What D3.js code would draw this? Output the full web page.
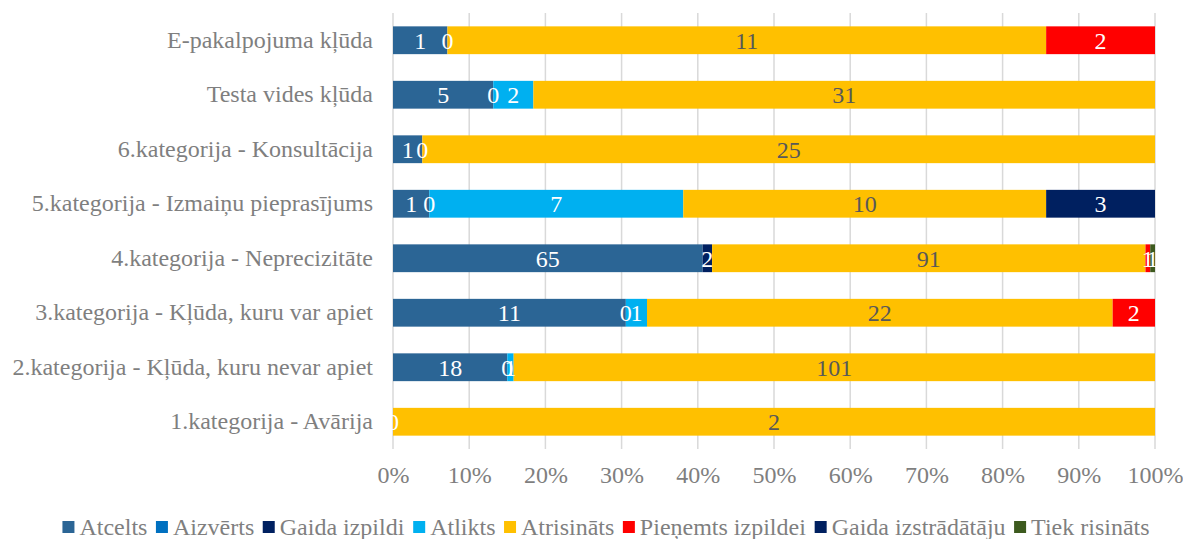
<!DOCTYPE html>
<html lang="lv">
<head>
    <meta charset="UTF-8">
    <title>Pieteikumi pa kategorijām</title>
    <script src="https://d3js.org/d3.v7.min.js"></script>
    <style>
        body { margin: 0; background: #fff; }
        text { font-family: "Liberation Serif", "Times New Roman", serif; }
    </style>
</head>
<body>
    <div id="chart"></div>
    <script>
        // kategorijas no augšas uz leju
        var categories = [
            "E-pakalpojuma kļūda",
            "Testa vides kļūda",
            "6.kategorija - Konsultācija",
            "5.kategorija - Izmaiņu pieprasījums",
            "4.kategorija - Neprecizitāte",
            "3.kategorija - Kļūda, kuru var apiet",
            "2.kategorija - Kļūda, kuru nevar apiet",
            "1.kategorija - Avārija"
        ];

        var seriesNames = ["Atcelts", "Aizvērts", "Gaida izpildi", "Atlikts", "Atrisināts",
                           "Pieņemts izpildei", "Gaida izstrādātāju", "Tiek risināts"];
        var seriesColors = ["#2b6595", "#0070c0", "#002060", "#00b0f0", "#ffc000",
                            "#ff0000", "#002060", "#3d5a1e"];

        var atcelts           = [1, 5, 1, 1, 65, 11, 18, null];
        var aizverts          = [0, 0, 0, 0, null, 0, 0, 0];
        var gaidaIzpildi      = [null, null, null, null, 2, null, null, null];
        var atlikts           = [null, 2, null, 7, null, 1, 1, null];
        var atrisinats        = [11, 31, 25, 10, 91, 22, 101, 2];
        var pienemts          = [2, null, null, null, 1, 2, null, null];
        var gaidaIzstradataju = [null, null, null, 3, null, null, null, null];
        var tiekRisinats      = [null, null, null, null, 1, null, null, null];

        var tickLabels = ["0%", "10%", "20%", "30%", "40%", "50%", "60%", "70%", "80%", "90%", "100%"];

        var seriesValues = [atcelts, aizverts, gaidaIzpildi, atlikts, atrisinats,
                            pienemts, gaidaIzstradataju, tiekRisinats];

        var width = 1183, height = 539;
        var plotLeft = 393, plotRight = 1155, plotTop = 13, plotBottom = 449;
        var textGray = "#7f7f7f";
        var fontSize = 24;

        // rindas tabula stack funkcijai
        var rows = categories.map(function (c, i) {
            var r = { category: c };
            seriesNames.forEach(function (s, j) { r[s] = seriesValues[j][i] || 0; });
            return r;
        });

        var stack = d3.stack().keys(seriesNames).offset(d3.stackOffsetExpand);
        var stacked = stack(rows);

        var xScale = d3.scaleLinear().domain([0, 1]).range([plotLeft, plotRight]);
        var yScale = d3.scaleBand().domain(categories).range([plotTop, plotBottom])
            .paddingInner(0.49).paddingOuter(0.245);
        var colorScale = d3.scaleOrdinal().domain(seriesNames).range(seriesColors);

        var svg = d3.select("#chart").append("svg")
            .attr("width", width)
            .attr("height", height);

        // režģa līnijas
        svg.append("g")
            .selectAll("line")
            .data(tickLabels)
            .enter()
            .append("line")
            .attr("x1", function (d, i) { return xScale(i / 10); })
            .attr("x2", function (d, i) { return xScale(i / 10); })
            .attr("y1", plotTop)
            .attr("y2", plotBottom)
            .attr("stroke", "#d9d9d9")
            .attr("stroke-width", 1.5);

        // stabiņi
        var layers = svg.append("g")
            .selectAll("g")
            .data(stacked)
            .enter()
            .append("g")
            .attr("fill", function (d) { return colorScale(d.key); });

        layers.selectAll("rect")
            .data(function (d) { return d; })
            .enter()
            .append("rect")
            .attr("x", function (d) { return xScale(d[0]); })
            .attr("y", function (d) { return yScale(d.data.category); })
            .attr("width", function (d) { return xScale(d[1]) - xScale(d[0]); })
            .attr("height", yScale.bandwidth());

        // datu etiķetes
        var labelG = svg.append("g").attr("font-size", fontSize).attr("text-anchor", "middle");
        stacked.forEach(function (layer, j) {
            layer.forEach(function (d, i) {
                var v = seriesValues[j][i];
                if (v === null) return;
                labelG.append("text")
                    .attr("x", (xScale(d[0]) + xScale(d[1])) / 2)
                    .attr("y", yScale(d.data.category) + yScale.bandwidth() / 2)
                    .attr("dy", "0.35em")
                    .attr("fill", layer.key === "Atrisināts" ? "#595959" : "#ffffff")
                    .text(v);
            });
        });

        // kategoriju nosaukumi
        var yAxis = d3.axisLeft(yScale).tickSize(0).tickPadding(20);
        svg.append("g")
            .attr("transform", "translate(" + plotLeft + ",0)")
            .call(yAxis)
            .call(function (g) { g.select(".domain").remove(); })
            .selectAll("text")
            .attr("font-family", "Liberation Serif, serif")
            .attr("font-size", fontSize)
            .attr("fill", textGray);

        // x ass
        var xAxis = d3.axisBottom(xScale)
            .tickValues(d3.range(0, 11).map(function (i) { return i / 10; }))
            .tickFormat(function (d, i) { return tickLabels[i]; })
            .tickSize(0)
            .tickPadding(17);
        svg.append("g")
            .attr("transform", "translate(0," + plotBottom + ")")
            .call(xAxis)
            .call(function (g) { g.select(".domain").remove(); })
            .selectAll("text")
            .attr("font-family", "Liberation Serif, serif")
            .attr("font-size", fontSize)
            .attr("fill", textGray);

        // leģenda
        var legend = svg.append("g").attr("font-size", fontSize);
        var items = legend.selectAll("g")
            .data(seriesNames)
            .enter()
            .append("g");
        items.append("rect")
            .attr("width", 12)
            .attr("height", 12)
            .attr("y", -14)
            .attr("fill", function (d) { return colorScale(d); });
        items.append("text")
            .attr("x", 17)
            .attr("fill", textGray)
            .text(function (d) { return d; });

        var gap = 8.5;
        var offsets = [], pos = 0;
        items.each(function () {
            offsets.push(pos);
            pos += this.getBBox().width + gap;
        });
        var totalW = pos - gap;
        var startX = 606 - totalW / 2;
        items.attr("transform", function (d, i) { return "translate(" + (startX + offsets[i]) + ",535)"; });
    </script>
</body>
</html>
